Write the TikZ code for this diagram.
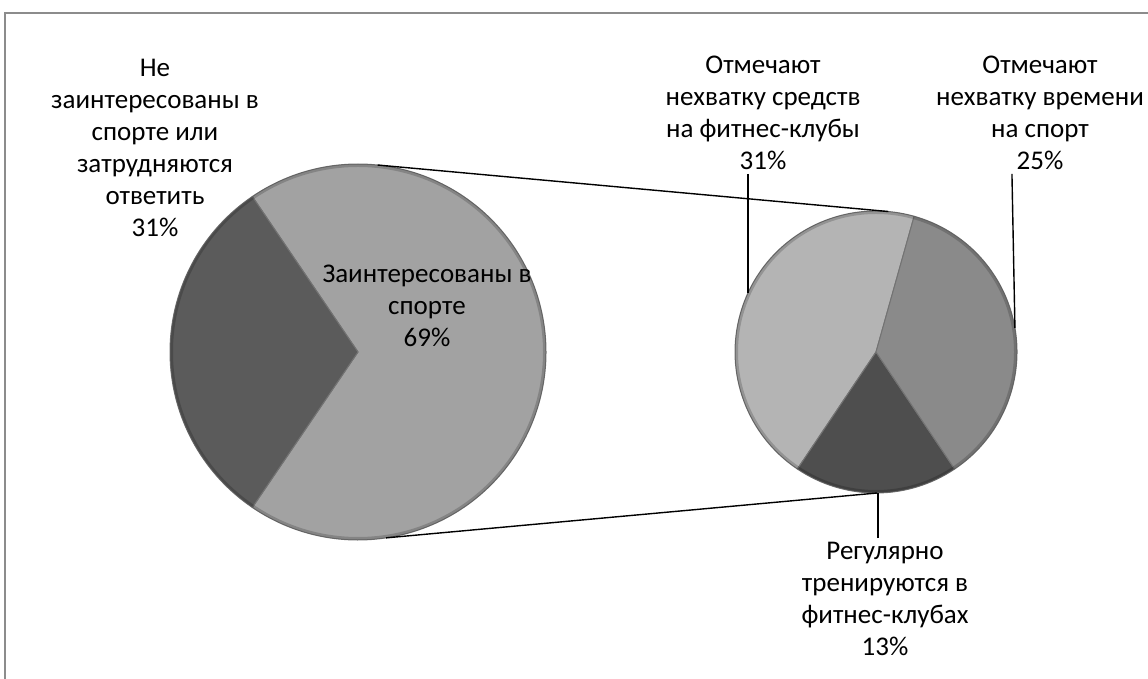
\documentclass[tikz,border=0pt]{standalone}
\usepackage{fontspec}
\setmainfont{Carlito}
\definecolor{bigdark}{HTML}{5B5B5B}
\definecolor{biglight}{HTML}{A2A2A2}
\definecolor{costfill}{HTML}{B4B4B4}
\definecolor{timefill}{HTML}{8A8A8A}
\definecolor{regfill}{HTML}{4E4E4E}
\begin{document}
\begin{tikzpicture}[x=1pt,y=1pt,
    pie label/.style={align=center,inner sep=0pt,outer sep=4pt,font=\fontsize{27}{32}\selectfont},
    slice/.style={draw=black!55,line width=1pt,line join=round},
    rim/.style={draw=black,opacity=0.18,line width=3pt},
    link/.style={draw=black,line width=1.4pt}]
    \useasboundingbox (0,0) rectangle (1148,679);
    \draw[black!45,line width=1.6pt] (5,-2) -- (5,666) -- (1150,666);

    \coordinate (big) at (358,327);
    \coordinate (small) at (876,327);

    % big pie
    \filldraw[slice,fill=biglight] (big) -- ++(235.8:188pt) arc[start angle=235.8,end angle=484.2,radius=188pt] -- cycle;
    \filldraw[slice,fill=bigdark] (big) -- ++(124.2:188pt) arc[start angle=124.2,end angle=235.8,radius=188pt] -- cycle;
    \draw[rim] (big) circle[radius=186.5pt];

    % small pie
    \filldraw[slice,fill=costfill] (small) -- ++(74.3:141pt) arc[start angle=74.3,end angle=236.1,radius=141pt] -- cycle;
    \filldraw[slice,fill=regfill] (small) -- ++(236.1:141pt) arc[start angle=236.1,end angle=303.9,radius=141pt] -- cycle;
    \filldraw[slice,fill=timefill] (small) -- ++(303.9:141pt) arc[start angle=303.9,end angle=434.3,radius=141pt] -- cycle;
    \draw[rim] (small) circle[radius=139.5pt];

    \path (big) ++(84:188pt) coordinate (bigtop);
    \path (big) ++(-81.4:188pt) coordinate (bigbot);
    \path (small) ++(85:141pt) coordinate (smalltop);
    \path (small) ++(-89.5:141pt) coordinate (smallbot);
    \path (small) ++(155.2:141pt) coordinate (costpt);
    \path (small) ++(9.8:141pt) coordinate (timept);
    \path (small) ++(-89.2:141pt) coordinate (regpt);

    \node[pie label] (lblno) at (155,531) {Не\\заинтересованы в\\спорте или\\затрудняются\\ответить\\31\%};
    \node[pie label] (lblyes) at (427,373) {Заинтересованы в\\спорте\\69\%};
    \node[pie label] (lblcost) at (763,566) {Отмечают\\нехватку средств\\на фитнес-клубы\\31\%};
    \node[pie label] (lbltime) at (1040,566) {Отмечают\\нехватку времени\\на спорт\\25\%};
    \node[pie label] (lblreg) at (885,80) {Регулярно\\тренируются в\\фитнес-клубах\\13\%};

    \draw[link] (bigtop) -- (smalltop);
    \draw[link] (bigbot) -- (smallbot);
    \draw[link] (lblcost.south -| costpt) -- (costpt);
    \draw[link] ([xshift=-3pt]lbltime.south -| timept) -- (timept);
    \draw[link] (lblreg.north -| regpt) -- (regpt);
\end{tikzpicture}
\end{document}
